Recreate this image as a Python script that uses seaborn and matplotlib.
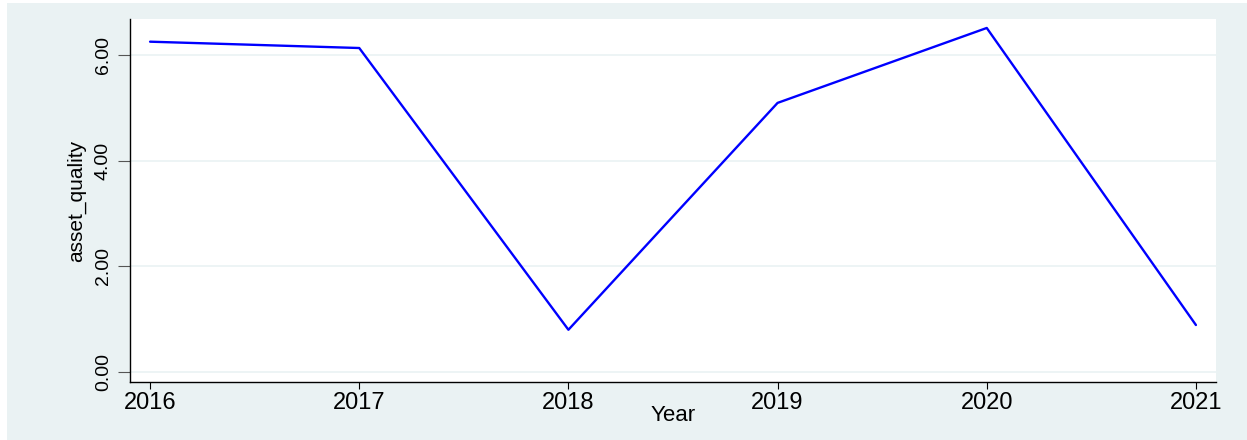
import matplotlib
matplotlib.use("Agg")
import matplotlib.pyplot as plt
import seaborn as sns
import pandas as pd
from matplotlib.patches import Rectangle

years = [2016, 2017, 2018, 2019, 2020, 2021]
asset_quality = [6.26, 6.14, 0.80, 5.10, 6.52, 0.89]
y_ticks = [0, 2, 4, 6]

df = pd.DataFrame({"Year": years, "asset_quality": asset_quality})

sns.set_theme(style="white")
plt.rcParams["font.family"] = ["Liberation Sans", "DejaVu Sans"]
plt.rcParams["text.color"] = "black"
plt.rcParams["axes.labelcolor"] = "black"
plt.rcParams["xtick.color"] = "black"
plt.rcParams["ytick.color"] = "black"

bg = "#EAF2F3"
fig = plt.figure(figsize=(12.47, 4.40), dpi=100, facecolor="white")
fig.patches.append(Rectangle((7 / 1247, 0), 1 - 7 / 1247, 1 - 3 / 440,
                             transform=fig.transFigure, facecolor=bg,
                             edgecolor="none", zorder=-10))
ax = fig.add_axes([130 / 1247, 1 - 382 / 440, (1216 - 130) / 1247, (382 - 19) / 440])
ax.set_facecolor("white")

sns.lineplot(data=df, x="Year", y="asset_quality", ax=ax, color="#0000FF",
             linewidth=1.7, zorder=3)

ax.set_xlim(2015.904, 2021.096)
ax.set_ylim(-0.19, 6.69)
ax.set_xticks(years)
ax.set_xticklabels([str(y) for y in years], fontsize=17)
ax.set_yticks(y_ticks)
ax.set_yticklabels([f"{v:.2f}" for v in y_ticks], rotation=90, va="center",
                   fontsize=14)

ax.grid(axis="y", color=bg, linewidth=1.2, zorder=0)
ax.grid(axis="x", visible=False)
for side in ["top", "right"]:
    ax.spines[side].set_visible(False)
for side in ["left", "bottom"]:
    ax.spines[side].set_color("black")
    ax.spines[side].set_linewidth(1.0)

ax.tick_params(axis="y", direction="out", length=9, width=0.8, color="#555555",
               pad=4, left=True)
ax.tick_params(axis="x", direction="out", length=5, width=0.8, color="black",
               pad=2, bottom=True)

ax.set_xlabel("Year", fontsize=16, labelpad=-6)
ax.set_ylabel("asset_quality", fontsize=15, labelpad=6)

fig.savefig("out.png", dpi=100, facecolor=fig.get_facecolor())
